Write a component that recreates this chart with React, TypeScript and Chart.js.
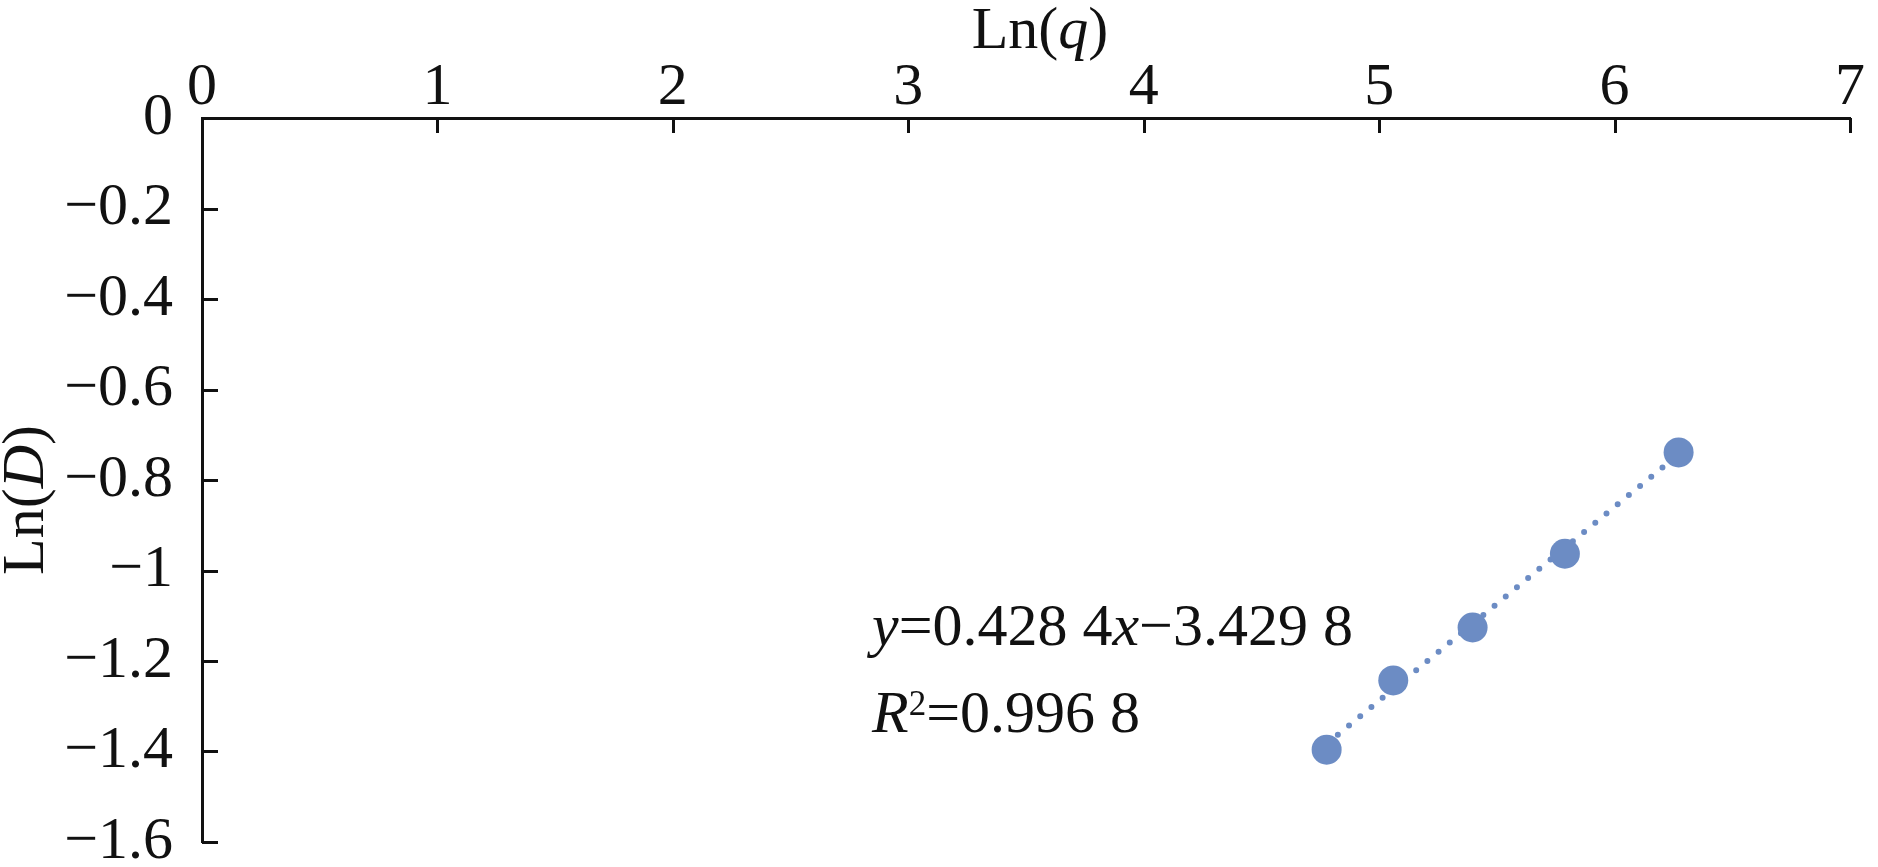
import React, { useEffect, useRef } from "react";
import { Chart, registerables } from "chart.js";

Chart.register(...registerables);

// ---- data ----
const lnQ = [4.777, 5.06, 5.397, 5.789, 6.272];
const lnD = [-1.396, -1.243, -1.126, -0.963, -0.739];
const fitSlope = 0.4284;
const fitIntercept = -3.4298;
const xTickValues = [0, 1, 2, 3, 4, 5, 6, 7];
const yTickValues = [0, -0.2, -0.4, -0.6, -0.8, -1, -1.2, -1.4, -1.6];
const xTitle: [string, boolean][] = [["Ln(", false], ["q", true], [")", false]];
const yTitle: [string, boolean][] = [["Ln(", false], ["D", true], [")", false]];
const eqLine1 = [
  { t: "y", it: true },
  { t: "=0.428 4", it: false },
  { t: "x", it: true },
  { t: "\u22123.429 8", it: false },
];
const eqLine2 = [
  { t: "R", it: true },
  { t: "2", it: false, sup: true },
  { t: "=0.996 8", it: false },
];

// ---- styling ----
const FONT = '"Liberation Serif", "Times New Roman", serif';
const FS = 60;
const INK = "#111111";
const DOT = "rgb(108,140,196)";
const W = 1878;
const H = 867;

type Seg = { t: string; it?: boolean; sup?: boolean };

function drawRich(
  ctx: CanvasRenderingContext2D,
  segs: Seg[],
  x: number,
  y: number,
  align: "left" | "center"
) {
  const fontFor = (s: Seg) =>
    `${s.it ? "italic " : ""}${s.sup ? Math.round(FS * 0.58) : FS}px ${FONT}`;
  let total = 0;
  const widths = segs.map((s) => {
    ctx.font = fontFor(s);
    const w = ctx.measureText(s.t).width;
    total += w;
    return w;
  });
  let cx = align === "center" ? x - total / 2 : x;
  ctx.textAlign = "left";
  ctx.textBaseline = "alphabetic";
  segs.forEach((s, i) => {
    ctx.font = fontFor(s);
    ctx.fillText(s.t, cx, s.sup ? y - FS * 0.28 : y);
    cx += widths[i];
  });
}

const overlayPlugin = {
  id: "overlay",
  afterDraw(chart: any) {
    const { ctx, chartArea, scales } = chart;
    const xs = scales.x;
    const ys = scales.y;
    ctx.save();
    // inward tick marks
    ctx.strokeStyle = INK;
    ctx.lineWidth = 3;
    ctx.beginPath();
    xs.ticks.forEach((t: any) => {
      if (t.value === 0) return;
      const px = Math.round(xs.getPixelForValue(t.value)) + 0.5;
      ctx.moveTo(px, chartArea.top);
      ctx.lineTo(px, chartArea.top + 15);
    });
    ys.ticks.forEach((t: any) => {
      if (t.value === 0) return;
      const py = Math.round(ys.getPixelForValue(t.value)) + 0.5;
      ctx.moveTo(chartArea.left, py);
      ctx.lineTo(chartArea.left + 16, py);
    });
    ctx.stroke();

    ctx.fillStyle = INK;
    // x title (top)
    drawRich(
      ctx,
      xTitle.map(([t, it]) => ({ t, it })),
      (chartArea.left + chartArea.right) / 2 + 14,
      48,
      "center"
    );
    // y title (rotated)
    ctx.save();
    ctx.translate(43, (chartArea.top + chartArea.bottom) / 2 + 20);
    ctx.rotate(-Math.PI / 2);
    drawRich(
      ctx,
      yTitle.map(([t, it]) => ({ t, it })),
      0,
      0,
      "center"
    );
    ctx.restore();

    // regression annotation
    drawRich(ctx, eqLine1, 872, 645, "left");
    drawRich(ctx, eqLine2, 872, 732, "left");
    ctx.restore();
  },
};

export default function App() {
  const ref = useRef<HTMLCanvasElement>(null);

  useEffect(() => {
    const prevMargin = document.body.style.margin;
    document.body.style.margin = "0";
    const canvas = ref.current!;
    const first = lnQ[0];
    const last = lnQ[lnQ.length - 1];
    const chart = new Chart(canvas, {
      type: "scatter",
      data: {
        datasets: [
          {
            label: "points",
            data: lnQ.map((x, i) => ({ x, y: lnD[i] })),
            backgroundColor: DOT,
            borderColor: DOT,
            pointRadius: 15,
            pointHoverRadius: 15,
            pointBorderWidth: 0,
            order: 1,
          },
          {
            label: "trend",
            data: [
              { x: first, y: fitSlope * first + fitIntercept },
              { x: last, y: fitSlope * last + fitIntercept },
            ],
            showLine: true,
            borderColor: DOT,
            borderWidth: 6,
            borderDash: [0, 14.5],
            borderCapStyle: "round",
            pointRadius: 0,
            pointHoverRadius: 0,
            order: 2,
          } as any,
        ],
      },
      options: {
        responsive: false,
        animation: false,
        devicePixelRatio: 1,
        layout: { padding: { left: 0, top: 0, right: 28, bottom: 25 } },
        plugins: {
          legend: { display: false },
          tooltip: { enabled: false },
        },
        scales: {
          x: {
            type: "linear",
            position: "top",
            min: 0,
            max: 7,
            grid: { display: false, drawTicks: false },
            border: { display: true, color: INK, width: 3 },
            afterBuildTicks: (s: any) => {
              s.ticks = xTickValues.map((v) => ({ value: v }));
            },
            afterFit: (s: any) => {
              s.height = 118;
              s.paddingLeft = 0;
              s.paddingRight = 0;
            },
            ticks: {
              padding: -6,
              maxRotation: 0,
              autoSkip: false,
              color: INK,
              font: { family: FONT, size: FS },
              callback: (v: any) => String(v),
            },
          },
          y: {
            type: "linear",
            position: "left",
            min: -1.6,
            max: 0,
            grid: { display: false, drawTicks: false },
            border: { display: true, color: INK, width: 3 },
            afterBuildTicks: (s: any) => {
              s.ticks = yTickValues.map((v) => ({ value: v }));
            },
            afterFit: (s: any) => {
              s.width = 202;
              s.paddingTop = 0;
              s.paddingBottom = 0;
            },
            ticks: {
              padding: 29,
              autoSkip: false,
              color: INK,
              font: { family: FONT, size: FS },
              callback: (v: any) =>
                String(Math.round(Number(v) * 10) / 10).replace("-", "\u2212"),
            },
          },
        },
      },
      plugins: [overlayPlugin],
    });
    return () => {
      chart.destroy();
      document.body.style.margin = prevMargin;
    };
  }, []);

  return (
    <div style={{ position: "fixed", left: 0, top: 0, width: W, height: H, background: "#fff" }}>
      <canvas ref={ref} width={W} height={H} style={{ display: "block" }} />
    </div>
  );
}
